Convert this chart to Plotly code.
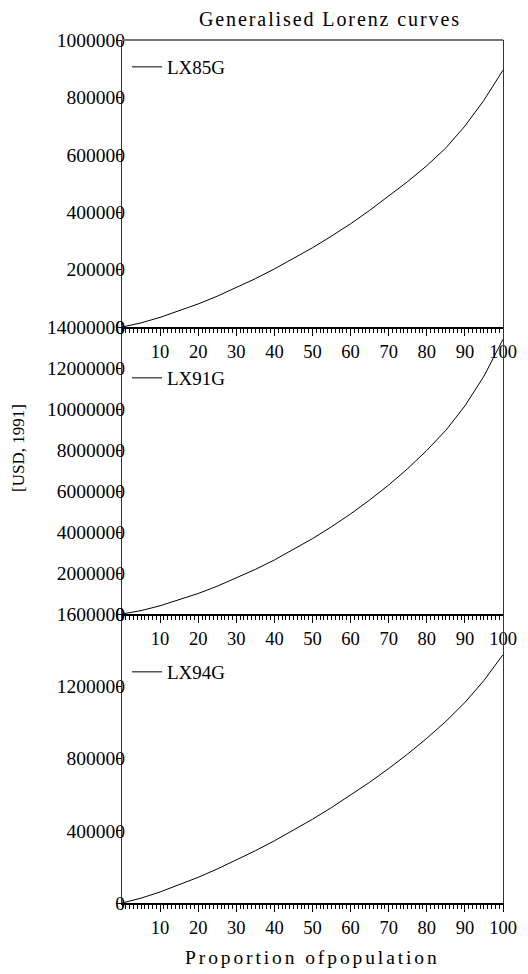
import plotly.graph_objects as go

# ---- data ----
pop = [0, 5, 10, 15, 20, 25, 30, 35, 40, 45, 50, 55, 60, 65, 70, 75, 80, 85, 90, 95, 100]
lx85g = [0, 14300, 33500, 55800, 80400, 107400, 136900, 168300, 202300, 238100, 276100,
         316800, 359800, 406300, 456500, 507000, 562000, 624000, 700000, 790000, 895000]
lx91g = [0, 166000, 401000, 682000, 1001000, 1357000, 1749000, 2175000, 2637000, 3136000, 3676000,
         4259000, 4882000, 5560000, 6294000, 7095000, 7980000, 8959000, 10150000, 11600000, 13400000]
lx94g = [0, 26800, 61100, 100000, 142300, 188400, 237300, 289300, 344400, 402200, 463700,
         528600, 596300, 668300, 744400, 825400, 912000, 1005100, 1110000, 1232000, 1375000]
series_names = ["LX85G", "LX91G", "LX94G"]
y_ranges = [[0, 1000000], [0, 14000000], [0, 1600000]]
y_ticks = [[0, 200000, 400000, 600000, 800000, 1000000],
           [0, 2000000, 4000000, 6000000, 8000000, 10000000, 12000000, 14000000],
           [0, 400000, 800000, 1200000, 1600000]]
x_ticks = [10, 20, 30, 40, 50, 60, 70, 80, 90, 100]
title_text = "Generalised Lorenz curves"
x_title = "Proportion ofpopulation"
y_title = "[USD, 1991]"

W, H = 528, 974
OFF = 8  # page body margin: figure is drawn 8px right and down
FONT = "Liberation Serif"


def px(v):
    return v - OFF


xl, xr = px(122) / W, px(503) / W
panel_px = [(40, 327), (327, 614), (614, 903)]
legend_px = [67, 378, 672]

fig = go.Figure()
data = [lx85g, lx91g, lx94g]
for i in range(3):
    sfx = "" if i == 0 else str(i + 1)
    fig.add_trace(go.Scatter(
        x=pop, y=data[i], mode="lines", name=series_names[i],
        line=dict(color="black", width=1),
        xaxis="x" + sfx, yaxis="y" + sfx,
        legend="legend" + sfx,
    ))
    top, bot = panel_px[i]
    fig.layout["xaxis" + sfx] = dict(
        domain=[xl, xr], range=[0, 100], anchor="y" + sfx, automargin=False,
        tickmode="array", tickvals=x_ticks, ticktext=[str(v) for v in x_ticks],
        ticks="outside", ticklen=7, tickwidth=1, tickcolor="black",
        minor=dict(dtick=1, tick0=0, ticks="outside", ticklen=4, tickcolor="black", tickwidth=1),
        showline=True, linecolor="black", linewidth=1.5,
        showgrid=False, zeroline=False,
        tickfont=dict(family=FONT, size=18.5, color="black"),
        fixedrange=True,
    )
    fig.layout["yaxis" + sfx] = dict(
        domain=[1 - px(bot) / H, 1 - px(top) / H], range=y_ranges[i], anchor="x" + sfx,
        automargin=False,
        tickmode="array", tickvals=y_ticks[i], ticktext=[str(v) for v in y_ticks[i]],
        ticks="outside", ticklen=5, tickcolor="black",
        showline=True, linecolor="#333333", linewidth=1, mirror=True,
        showgrid=False, zeroline=False,
        ticklabelstandoff=-13,
        tickfont=dict(family=FONT, size=19.5, color="black"),
        fixedrange=True,
    )
    fig.layout["legend" + sfx] = dict(
        x=px(127) / W, y=1 - px(legend_px[i]) / H, xanchor="left", yanchor="middle",
        bgcolor="rgba(0,0,0,0)", borderwidth=0, itemwidth=30,
        font=dict(family=FONT, size=19, color="black"),
    )

fig.add_shape(type="line", xref="paper", yref="paper", x0=xl, x1=xr,
              y0=1 - px(40) / H, y1=1 - px(40) / H, line=dict(color="#777777", width=2))

fig.add_annotation(text="<span style='letter-spacing:1.9px'>" + title_text + "</span>",
                   x=px(330) / W, y=1 - px(19) / H, xref="paper", yref="paper",
                   showarrow=False, xanchor="center", yanchor="middle",
                   font=dict(family=FONT, size=20, color="black"))
fig.add_annotation(text="<span style='letter-spacing:2.9px'>" + x_title + "</span>",
                   x=px(312) / W, y=1 - px(957) / H, xref="paper", yref="paper",
                   showarrow=False, xanchor="center", yanchor="middle",
                   font=dict(family=FONT, size=19.5, color="black"))
fig.add_annotation(text=y_title, x=px(18) / W, y=1 - px(448) / H, xref="paper", yref="paper",
                   showarrow=False, xanchor="center", yanchor="middle", textangle=-90,
                   font=dict(family=FONT, size=17, color="black"))

fig.update_layout(
    width=W, height=H, margin=dict(l=0, r=0, t=0, b=0, autoexpand=False),
    paper_bgcolor="white", plot_bgcolor="white",
    showlegend=True,
)
fig.write_html("out.html")
